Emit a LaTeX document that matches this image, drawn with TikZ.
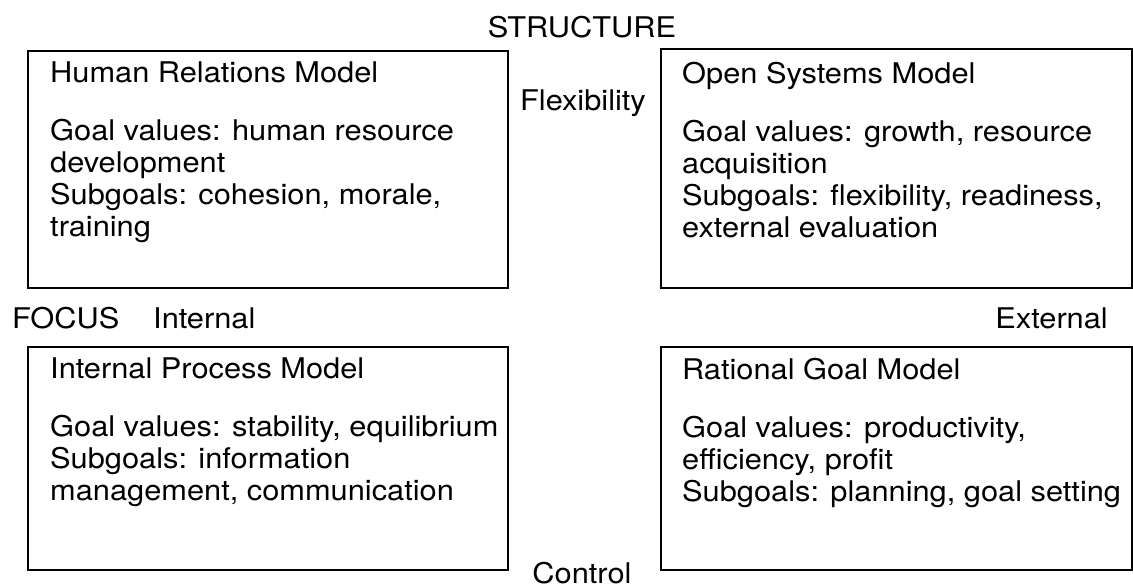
\documentclass[tikz,border=0pt]{standalone}
\usepackage{fontspec}
\setmainfont[FakeStretch=1.08]{TeX Gyre Heros}
\begin{document}
\begin{tikzpicture}[x=1pt,y=-1pt,
  quad/.style={draw,line width=1.6pt,inner sep=0pt},
  body/.style={anchor=north west,inner sep=0pt,align=left,
    font=\fontsize{28.5}{32}\selectfont},
  lab/.style={inner sep=0pt,font=\fontsize{28.5}{32}\selectfont}]
\useasboundingbox (0,0) rectangle (1133,587);

% quadrant frames
\node[quad,minimum width=480pt,minimum height=237pt,anchor=north west] (hr) at (27,50) {};
\node[quad,minimum width=471pt,minimum height=239pt,anchor=north west] (os) at (660,48) {};
\node[quad,minimum width=480pt,minimum height=223pt,anchor=north west] (ip) at (27,346) {};
\node[quad,minimum width=471pt,minimum height=223pt,anchor=north west] (rg) at (660,346) {};

% quadrant texts
\node[body] (hrt) at ([xshift=23pt,yshift=-12pt]hr.north west)
  {Human Relations Model\\[26pt]Goal values: human resource\\development\\Subgoals: cohesion, morale,\\training};
\node[body] (ost) at ([xshift=22pt,yshift=-12pt]hr.north west -| os.west)
  {Open Systems Model\\[26pt]Goal values: growth, resource\\acquisition\\Subgoals: flexibility, readiness,\\external evaluation};
\node[body] (ipt) at ([xshift=23pt,yshift=-12pt]ip.north west)
  {Internal Process Model\\[26pt]Goal values: stability, equilibrium\\Subgoals: information\\management, communication};
\node[body] (rgt) at ([xshift=22pt,yshift=-12pt]rg.north west)
  {Rational Goal Model\\[26pt]Goal values: productivity,\\efficiency, profit\\Subgoals: planning, goal setting};

% axis labels
\node[lab,anchor=base] (structure) at (582,37) {STRUCTURE};
\node[lab,anchor=base] (flex) at (583,110) {Flexibility};
\node[lab,anchor=base west] (focus) at (12,328) {FOCUS};
\node[lab,anchor=base west] (internal) at (153,328) {Internal};
\node[lab,anchor=base east] (external) at (1108,328) {External};
\node[lab,anchor=base] (control) at (582,583) {Control};
\end{tikzpicture}
\end{document}
